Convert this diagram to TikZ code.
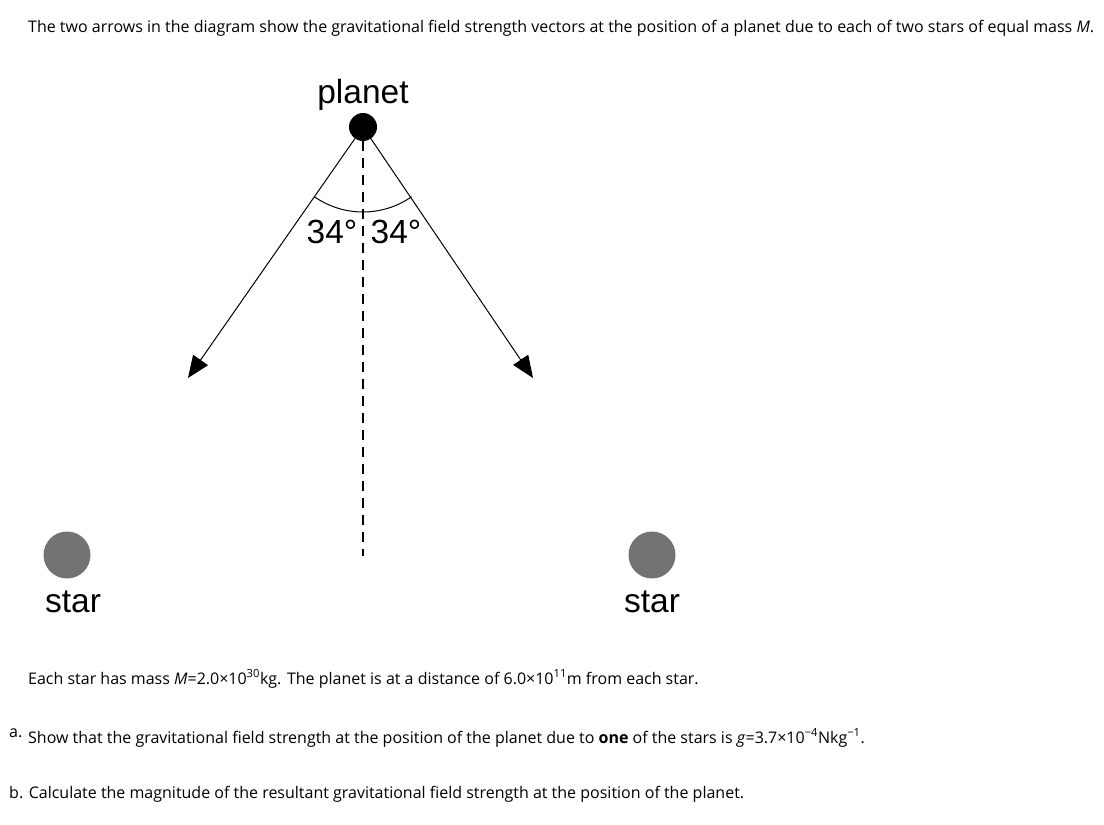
\documentclass[tikz,border=0pt]{standalone}
\usepackage{fontspec}
\setmainfont{Open Sans}
\newfontfamily\arialf{Liberation Sans}
\usetikzlibrary{arrows.meta}
\definecolor{stargray}{HTML}{737373}
\begin{document}
\begin{tikzpicture}[x=1pt,y=-1pt,
  txt/.style={anchor=base west,inner sep=0pt,font=\fontsize{16}{19}\selectfont},
  lbl/.style={anchor=base,inner sep=0pt,font=\arialf\fontsize{33.5}{38}\selectfont},
  vec/.style={line width=1pt,-{Triangle[length=22pt,width=18pt]}},
  body/.style={circle,inner sep=0pt,minimum size=#1},
  dashline/.style={line width=1.3pt,dash pattern=on 10pt off 7pt}]
\useasboundingbox (0,0) rectangle (1104,825);
% texts
\node[txt] (t1) at (28,32) {The two arrows in the diagram show the gravitational field strength vectors at the position of a planet due to each of two stars of equal mass \textit{M}.};
\node[txt] (t2) at (28,684) {Each star has mass \textit{M}=2.0×10\textsuperscript{30}kg. The planet is at a distance of 6.0×10\textsuperscript{11}m from each star.};
\node[txt] (ta) at (9,737) {a.};
\node[txt] (t3) at (28,743) {Show that the gravitational field strength at the position of the planet due to \textbf{one} of the stars is \textit{g}=3.7×10\textsuperscript{−4}Nkg\textsuperscript{−1}.};
\node[txt] (t4) at (9,798) {b. Calculate the magnitude of the resultant gravitational field strength at the position of the planet.};
% planet
\node[body=28pt,fill=black] (planet) at (363,127) {};
\node[lbl] (plabel) at (363,103) {planet};
% stars
\node[body=47pt,fill=stargray] (s1) at (67,555) {};
\node[body=47pt,fill=stargray] (s2) at (652,555) {};
\node[lbl] (s1l) at (73,612) {star};
\node[lbl] (s2l) at (652,612) {star};
% vectors
\coordinate (tl) at (188,378);
\coordinate (tr) at (533,378);
\coordinate (dend) at (363,556);
\draw[vec] (planet.center) -- (tl);
\draw[vec] (planet.center) -- (tr);
\draw[dashline] (planet.south) -- (dend);
\draw[line width=1pt] (planet.center) ++(124.9:85) arc[start angle=124.9, end angle=55.1, radius=85];
\node[lbl] (a1) at (332,243) {34°};
\node[lbl] (a2) at (396,243) {34°};
\end{tikzpicture}
\end{document}
